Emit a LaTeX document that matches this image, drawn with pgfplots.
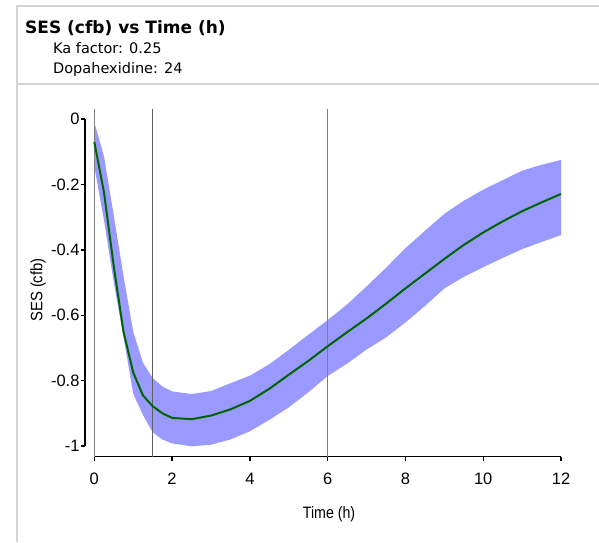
\documentclass[border=0pt]{standalone}
\usepackage{fontspec}
\setmainfont{Liberation Sans}
\newfontfamily\titlefont{DejaVu Sans}
\usepackage{graphicx}
\usepackage{pgfplots}
\usepackage{pgfplotstable}
\pgfplotsset{compat=1.18}
\usepgfplotslibrary{fillbetween}
\definecolor{bandblue}{HTML}{9999FF}
\definecolor{linegreen}{HTML}{006400}
\definecolor{framegray}{HTML}{D4D4D4}
\definecolor{vgray}{HTML}{7F7F7F}

\pgfplotstableread{
t m
0 -0.070
0.25 -0.225
0.5 -0.450
0.75 -0.650
1.0 -0.775
1.25 -0.845
1.5 -0.878
1.75 -0.900
2.0 -0.914
2.5 -0.918
3.0 -0.907
3.5 -0.888
4.0 -0.862
4.5 -0.825
5.0 -0.782
5.5 -0.740
6.0 -0.695
6.5 -0.652
7.0 -0.610
7.5 -0.565
8.0 -0.518
8.5 -0.473
9.0 -0.428
9.5 -0.385
10.0 -0.347
10.5 -0.313
11.0 -0.282
11.5 -0.255
12.0 -0.229
}\medtab

\pgfplotstableread{
t u
0 -0.010
0.25 -0.115
0.5 -0.295
0.75 -0.480
1.0 -0.650
1.25 -0.745
1.5 -0.792
1.75 -0.818
2.0 -0.833
2.5 -0.841
3.0 -0.832
3.5 -0.808
4.0 -0.785
4.5 -0.750
5.0 -0.706
5.5 -0.660
6.0 -0.615
6.5 -0.567
7.0 -0.512
7.5 -0.455
8.0 -0.395
8.5 -0.342
9.0 -0.290
9.5 -0.250
10.0 -0.216
10.5 -0.187
11.0 -0.158
11.5 -0.140
12.0 -0.125
}\bandhi

\pgfplotstableread{
t l
0 -0.145
0.25 -0.310
0.5 -0.500
0.75 -0.665
1.0 -0.840
1.25 -0.905
1.5 -0.958
1.75 -0.980
2.0 -0.992
2.5 -1.001
3.0 -0.996
3.5 -0.980
4.0 -0.955
4.5 -0.920
5.0 -0.882
5.5 -0.836
6.0 -0.786
6.5 -0.748
7.0 -0.705
7.5 -0.668
8.0 -0.622
8.5 -0.572
9.0 -0.518
9.5 -0.483
10.0 -0.453
10.5 -0.425
11.0 -0.398
11.5 -0.376
12.0 -0.355
}\bandlo

\begin{document}
\begin{tikzpicture}
\draw[color=framegray, line width=1.5pt] (17pt,-542pt) -- (17pt,-6pt) -- (599pt,-6pt);
\draw[color=framegray, line width=1.5pt] (17pt,-84pt) -- (599pt,-84pt);
\node[anchor=base west, inner sep=0pt, font=\titlefont\bfseries\fontsize{17}{20}\selectfont] at (25pt,-33pt) {SES (cfb) vs Time (h)};
\node[anchor=base west, inner sep=0pt, font=\titlefont\fontsize{14.5}{17}\selectfont] at (53pt,-53.5pt) {Ka factor: 0.25};
\node[anchor=base west, inner sep=0pt, font=\titlefont\fontsize{14.5}{17}\selectfont] at (53pt,-73pt) {Dopahexidine: 24};
\begin{axis}[
  at={(94.3pt,-446pt)}, anchor=south west,
  scale only axis, width=466.7pt, height=327pt,
  xmin=0, xmax=12, ymin=-1, ymax=0,
  axis lines=left,
  axis line style={-, line width=1.4pt, black},
  axis x line shift=10.7pt,
  axis y line shift=9.3pt,
  tick align=outside,
  major tick length=4.5pt,
  tick style={black, line width=1.4pt},
  xtick={0,2,4,6,8,10,12},
  ytick={-1,-0.8,-0.6,-0.4,-0.2,0},
  /pgf/number format/assume math mode=true,
  tick label style={font=\fontsize{16.5}{18}\selectfont},
  y tick label style={inner sep=0.8pt},
  x tick label style={yshift=-8pt},
  xlabel={\scalebox{0.86}[1]{Time (h)}},
  ylabel={\scalebox{0.9}[1]{SES (cfb)}},
  label style={font=\fontsize{16.5}{18}\selectfont},
  xlabel style={at={(axis description cs:0.503,-0.208)}, anchor=center},
  ylabel style={at={(axis description cs:-0.1206,0.477)}, anchor=center},
  clip=false,
]
\addplot[name path=up, draw=none, forget plot] table[x=t, y=u] {\bandhi};
\addplot[name path=lo, draw=none, forget plot] table[x=t, y=l] {\bandlo};
\addplot[fill=bandblue, draw=none, forget plot] fill between[of=up and lo];
\addplot[vgray, line width=1.5pt, forget plot] coordinates {(0,-1.033) (0,0.031)};
\addplot[vgray!75!black, line width=1pt, forget plot] coordinates {(1.5,-1.033) (1.5,0.031)};
\addplot[vgray, line width=1.2pt, forget plot] coordinates {(6,-1.033) (6,0.031)};
\addplot[linegreen, line width=2pt] table[x=t, y=m] {\medtab};
\end{axis}
\pgfresetboundingbox
\useasboundingbox (0,0) rectangle (599pt,-542pt);
\end{tikzpicture}
\end{document}
